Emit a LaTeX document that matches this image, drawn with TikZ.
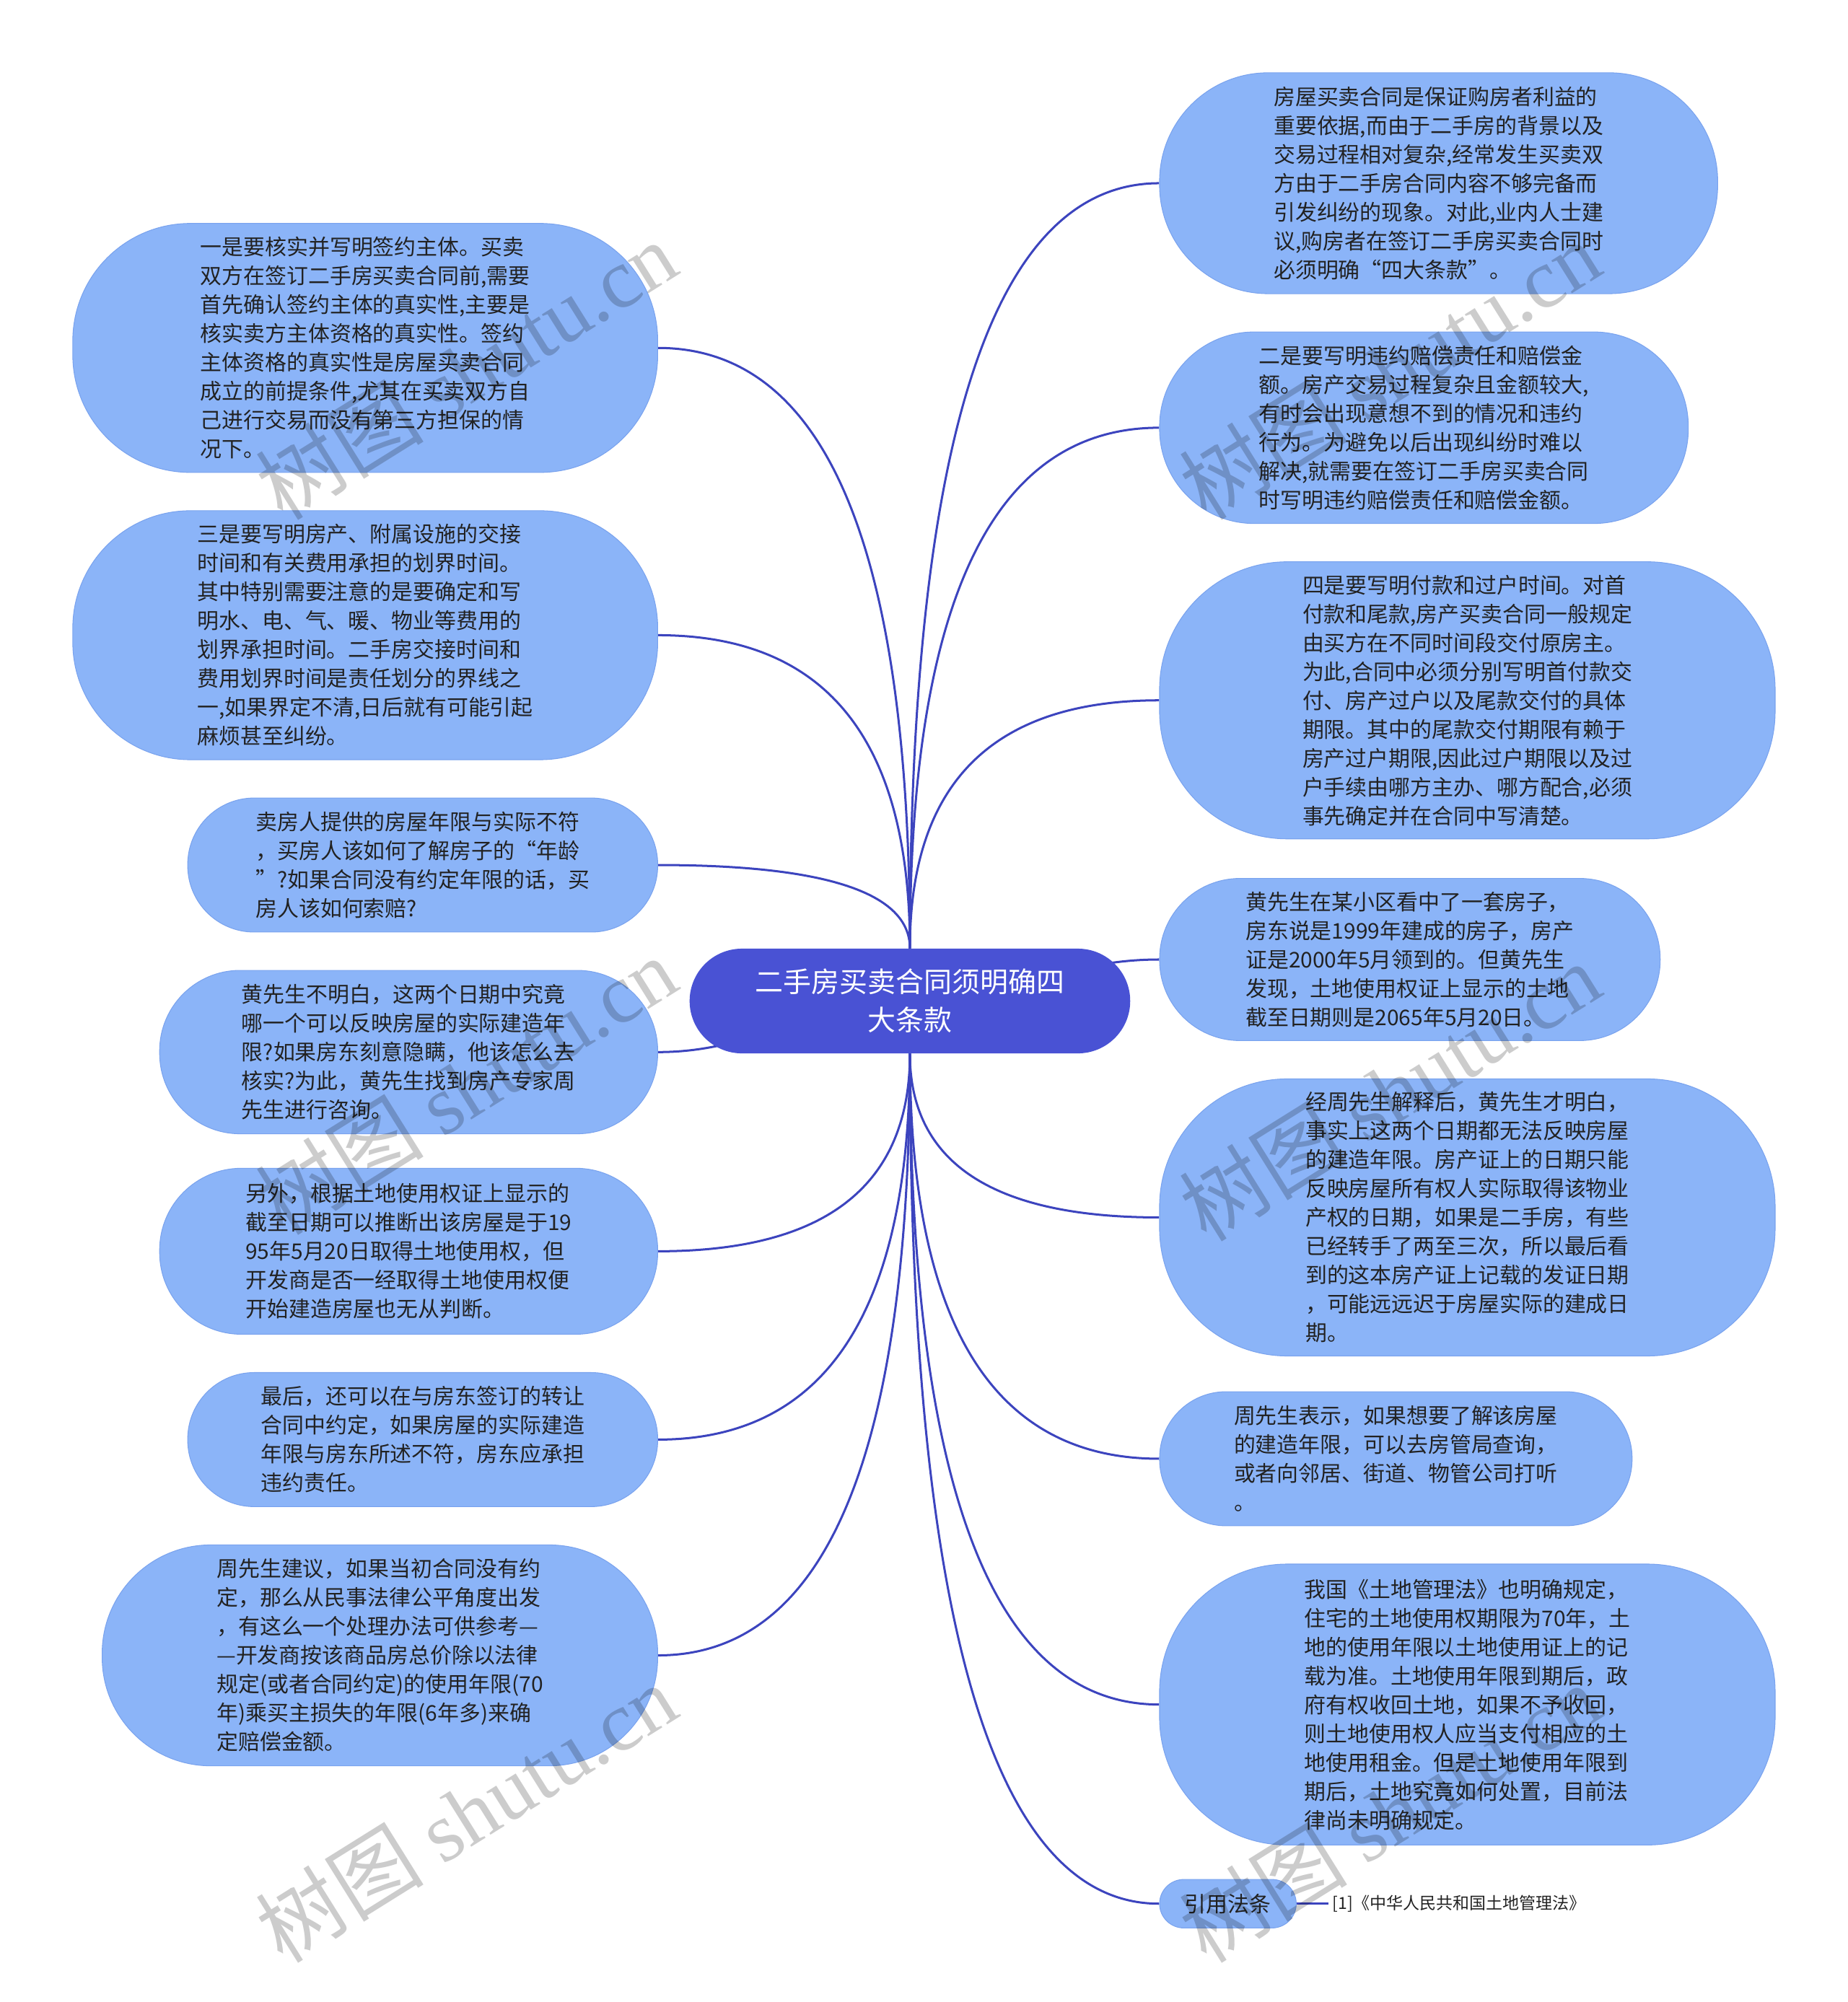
\documentclass[tikz,border=0pt]{standalone}
\usepackage{fontspec}
\setmainfont{Noto Sans CJK SC}
\newfontfamily\wmserif{Liberation Serif}
\usetikzlibrary{positioning,calc,backgrounds}

\definecolor{rootblue}{RGB}{73,82,212}
\definecolor{leafblue}{RGB}{139,180,248}
\definecolor{leafedge}{RGB}{122,163,238}
\definecolor{linkblue}{RGB}{60,68,190}
\definecolor{inkgray}{RGB}{34,34,34}

\tikzset{
  root/.style={fill=rootblue, text=white, align=center, font=\fontsize{22}{30}\selectfont,
    minimum width=345pt, minimum height=82pt, rounded corners=41pt},
  leaf/.style={fill=leafblue, draw=leafedge, line width=0.6pt, text=inkgray, align=left,
    font=\fontsize{16.9}{22.6}\selectfont},
  branch/.style={draw=linkblue, line width=1.7pt},
  reftext/.style={text=inkgray, font=\fontsize{13}{16}\selectfont, inner xsep=3pt},
  watermark/.style={text=black, opacity=0.2, rotate=32, font=\fontsize{66}{70}\selectfont}
}

\begin{document}
\begin{tikzpicture}[x=1pt,y=-1pt]
  \useasboundingbox (0,0) rectangle (1447,1568);
  % Root
  \node[root] (root) at (712.5,784) {二手房买卖合同须明确四\\大条款};
  % Left-hand leaves
  \node[leaf, minimum width=458pt, minimum height=195pt, rounded corners=92pt] (l1) at (286,272.5)
    {一是要核实并写明签约主体。买卖\\双方在签订二手房买卖合同前,需要\\首先确认签约主体的真实性,主要是\\核实卖方主体资格的真实性。签约\\主体资格的真实性是房屋买卖合同\\成立的前提条件,尤其在买卖双方自\\己进行交易而没有第三方担保的情\\况下。};
  \node[leaf, minimum width=458pt, minimum height=195pt, rounded corners=92pt] (l2) at (286,497.5)
    {三是要写明房产、附属设施的交接\\时间和有关费用承担的划界时间。\\其中特别需要注意的是要确定和写\\明水、电、气、暖、物业等费用的\\划界承担时间。二手房交接时间和\\费用划界时间是责任划分的界线之\\一,如果界定不清,日后就有可能引起\\麻烦甚至纠纷。};
  \node[leaf, minimum width=368pt, minimum height=105pt, rounded corners=52pt] (l3) at (331,677.5)
    {卖房人提供的房屋年限与实际不符\\，买房人该如何了解房子的“年龄\\”?如果合同没有约定年限的话，买\\房人该如何索赔?};
  \node[leaf, minimum width=390pt, minimum height=128pt, rounded corners=63pt] (l4) at (320,824)
    {黄先生不明白，这两个日期中究竟\\哪一个可以反映房屋的实际建造年\\限?如果房东刻意隐瞒，他该怎么去\\核实?为此，黄先生找到房产专家周\\先生进行咨询。};
  \node[leaf, minimum width=390pt, minimum height=130pt, rounded corners=64pt] (l5) at (320,980)
    {另外，根据土地使用权证上显示的\\截至日期可以推断出该房屋是于19\\95年5月20日取得土地使用权，但\\开发商是否一经取得土地使用权便\\开始建造房屋也无从判断。};
  \node[leaf, minimum width=368pt, minimum height=105pt, rounded corners=52pt] (l6) at (331,1127.5)
    {最后，还可以在与房东签订的转让\\合同中约定，如果房屋的实际建造\\年限与房东所述不符，房东应承担\\违约责任。};
  \node[leaf, minimum width=435pt, minimum height=173pt, rounded corners=85pt] (l7) at (297.5,1296.5)
    {周先生建议，如果当初合同没有约\\定，那么从民事法律公平角度出发\\，有这么一个处理办法可供参考—\\—开发商按该商品房总价除以法律\\规定(或者合同约定)的使用年限(70\\年)乘买主损失的年限(6年多)来确\\定赔偿金额。};
  % Right-hand leaves
  \node[leaf, minimum width=437pt, minimum height=173pt, rounded corners=85pt] (r1) at (1126.5,143.5)
    {房屋买卖合同是保证购房者利益的\\重要依据,而由于二手房的背景以及\\交易过程相对复杂,经常发生买卖双\\方由于二手房合同内容不够完备而\\引发纠纷的现象。对此,业内人士建\\议,购房者在签订二手房买卖合同时\\必须明确“四大条款”。};
  \node[leaf, minimum width=414pt, minimum height=150pt, rounded corners=74pt] (r2) at (1115,335)
    {二是要写明违约赔偿责任和赔偿金\\额。房产交易过程复杂且金额较大,\\有时会出现意想不到的情况和违约\\行为。为避免以后出现纠纷时难以\\解决,就需要在签订二手房买卖合同\\时写明违约赔偿责任和赔偿金额。};
  \node[leaf, minimum width=482pt, minimum height=217pt, rounded corners=100pt] (r3) at (1149,548.5)
    {四是要写明付款和过户时间。对首\\付款和尾款,房产买卖合同一般规定\\由买方在不同时间段交付原房主。\\为此,合同中必须分别写明首付款交\\付、房产过户以及尾款交付的具体\\期限。其中的尾款交付期限有赖于\\房产过户期限,因此过户期限以及过\\户手续由哪方主办、哪方配合,必须\\事先确定并在合同中写清楚。};
  \node[leaf, minimum width=392pt, minimum height=127pt, rounded corners=63pt] (r4) at (1104,751.5)
    {黄先生在某小区看中了一套房子，\\房东说是1999年建成的房子，房产\\证是2000年5月领到的。但黄先生\\发现，土地使用权证上显示的土地\\截至日期则是2065年5月20日。};
  \node[leaf, minimum width=482pt, minimum height=217pt, rounded corners=100pt] (r5) at (1149,953.5)
    {经周先生解释后，黄先生才明白，\\事实上这两个日期都无法反映房屋\\的建造年限。房产证上的日期只能\\反映房屋所有权人实际取得该物业\\产权的日期，如果是二手房，有些\\已经转手了两至三次，所以最后看\\到的这本房产证上记载的发证日期\\，可能远远迟于房屋实际的建成日\\期。};
  \node[leaf, minimum width=370pt, minimum height=105pt, rounded corners=52pt] (r6) at (1093,1142.5)
    {周先生表示，如果想要了解该房屋\\的建造年限，可以去房管局查询，\\或者向邻居、街道、物管公司打听\\。};
  \node[leaf, minimum width=482pt, minimum height=220pt, rounded corners=100pt] (r7) at (1149,1335)
    {我国《土地管理法》也明确规定，\\住宅的土地使用权期限为70年，土\\地的使用年限以土地使用证上的记\\载为准。土地使用年限到期后，政\\府有权收回土地，如果不予收回，\\则土地使用权人应当支付相应的土\\地使用租金。但是土地使用年限到\\期后，土地究竟如何处置，目前法\\律尚未明确规定。};
  \node[leaf, align=center, minimum width=107pt, minimum height=38pt, rounded corners=19pt] (r8) at (961.5,1491) {引用法条};
  \node[reftext, right=25pt of r8] (ref) {[1]《中华人民共和国土地管理法》};
  % Branches
  \begin{pgfonlayer}{background}
    % upper left
    \draw[branch] (root.north) .. controls ($(root.north)!.667!(root.north |- l1.east)$) and ($(l1.east)!.667!(root.north |- l1.east)$) .. (l1.east);
    \draw[branch] (root.north) .. controls ($(root.north)!.667!(root.north |- l2.east)$) and ($(l2.east)!.667!(root.north |- l2.east)$) .. (l2.east);
    \draw[branch] (root.north) .. controls ($(root.north)!.667!(root.north |- l3.east)$) and ($(l3.east)!.667!(root.north |- l3.east)$) .. (l3.east);
    % upper right
    \draw[branch] (root.north) .. controls ($(root.north)!.667!(root.north |- r1.west)$) and ($(r1.west)!.667!(root.north |- r1.west)$) .. (r1.west);
    \draw[branch] (root.north) .. controls ($(root.north)!.667!(root.north |- r2.west)$) and ($(r2.west)!.667!(root.north |- r2.west)$) .. (r2.west);
    \draw[branch] (root.north) .. controls ($(root.north)!.667!(root.north |- r3.west)$) and ($(r3.west)!.667!(root.north |- r3.west)$) .. (r3.west);
    % sideways
    \draw[branch] (root.center) to[out=180,in=0] (l4.east);
    \draw[branch] (root.center) to[out=0,in=180] (r4.west);
    % lower left
    \draw[branch] (root.south) .. controls ($(root.south)!.667!(root.south |- l5.east)$) and ($(l5.east)!.667!(root.south |- l5.east)$) .. (l5.east);
    \draw[branch] (root.south) .. controls ($(root.south)!.667!(root.south |- l6.east)$) and ($(l6.east)!.667!(root.south |- l6.east)$) .. (l6.east);
    \draw[branch] (root.south) .. controls ($(root.south)!.667!(root.south |- l7.east)$) and ($(l7.east)!.667!(root.south |- l7.east)$) .. (l7.east);
    % lower right
    \draw[branch] (root.south) .. controls ($(root.south)!.667!(root.south |- r5.west)$) and ($(r5.west)!.667!(root.south |- r5.west)$) .. (r5.west);
    \draw[branch] (root.south) .. controls ($(root.south)!.667!(root.south |- r6.west)$) and ($(r6.west)!.667!(root.south |- r6.west)$) .. (r6.west);
    \draw[branch] (root.south) .. controls ($(root.south)!.667!(root.south |- r7.west)$) and ($(r7.west)!.667!(root.south |- r7.west)$) .. (r7.west);
    \draw[branch] (root.south) .. controls ($(root.south)!.667!(root.south |- r8.west)$) and ($(r8.west)!.667!(root.south |- r8.west)$) .. (r8.west);
    \draw[branch] (r8.east) -- (ref.west);
  \end{pgfonlayer}
  % Watermarks
  \node[watermark] (wm1) at (365,290) {树图 {\wmserif shutu.cn}};
  \node[watermark] (wm2) at (365,850) {树图 {\wmserif shutu.cn}};
  \node[watermark] (wm3) at (365,1420) {树图 {\wmserif shutu.cn}};
  \node[watermark] (wm4) at (1088,290) {树图 {\wmserif shutu.cn}};
  \node[watermark] (wm5) at (1088,855) {树图 {\wmserif shutu.cn}};
  \node[watermark] (wm6) at (1088,1420) {树图 {\wmserif shutu.cn}};
\end{tikzpicture}
\end{document}
